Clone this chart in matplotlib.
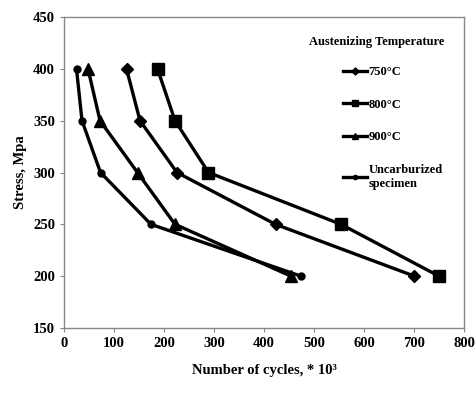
import matplotlib
matplotlib.use("Agg")
import matplotlib.pyplot as plt

stress = [400, 350, 300, 250, 200]
cycles_750 = [125, 152, 226, 423, 701]
cycles_800 = [187, 222, 289, 554, 750]
cycles_900 = [48, 72, 147, 222, 454]
cycles_unc = [25, 36, 73, 174, 474]

labels = ["750\u00b0C", "800\u00b0C", "900\u00b0C", "Uncarburized\nspecimen"]
legend_title = "Austenizing Temperature"
xticks = [0, 100, 200, 300, 400, 500, 600, 700, 800]
yticks = [150, 200, 250, 300, 350, 400, 450]

plt.rcParams['font.family'] = ['Liberation Serif', 'DejaVu Serif']
plt.rcParams['font.weight'] = 'bold'

fig = plt.figure(figsize=(4.77, 3.94), dpi=100)
ax = fig.add_axes([64/477, 1-328/394, (464-64)/477, (328-17)/394])

lw = 2.4
ax.plot(cycles_750, stress, color='black', lw=lw, marker='D', ms=6, label=labels[0])
ax.plot(cycles_800, stress, color='black', lw=lw, marker='s', ms=8, label=labels[1])
ax.plot(cycles_900, stress, color='black', lw=lw, marker='^', ms=8, label=labels[2])
ax.plot(cycles_unc, stress, color='black', lw=lw, marker='o', ms=5, label=labels[3])

ax.set_xlim(0, 800)
ax.set_ylim(150, 450)
ax.set_xticks(xticks)
ax.set_yticks(yticks)
ax.tick_params(labelsize=10.5, length=3, color='#888888', direction='out')
for lab in ax.get_xticklabels() + ax.get_yticklabels():
    lab.set_fontweight('bold')
for s in ax.spines.values():
    s.set_color('#888888')
    s.set_linewidth(1)

ax.set_xlabel("Number of cycles, * 10\u00b3", fontsize=10.5, fontweight='bold', labelpad=10)
ax.set_ylabel("Stress, Mpa", fontsize=10.5, fontweight='bold', labelpad=4)

fig.text(377/477, 1-42/394, legend_title, fontsize=9, fontweight='bold',
         ha='center', va='center')

leg = ax.legend(loc='upper left', bbox_to_anchor=((343-64)/400, (328-66)/311),
                frameon=False, fontsize=9, handlelength=1.9, labelspacing=1.65,
                borderaxespad=0, borderpad=0, handletextpad=0.15, markerscale=0.6)
for t in leg.get_texts():
    t.set_fontweight('bold')

fig.savefig("out.png", dpi=100)
